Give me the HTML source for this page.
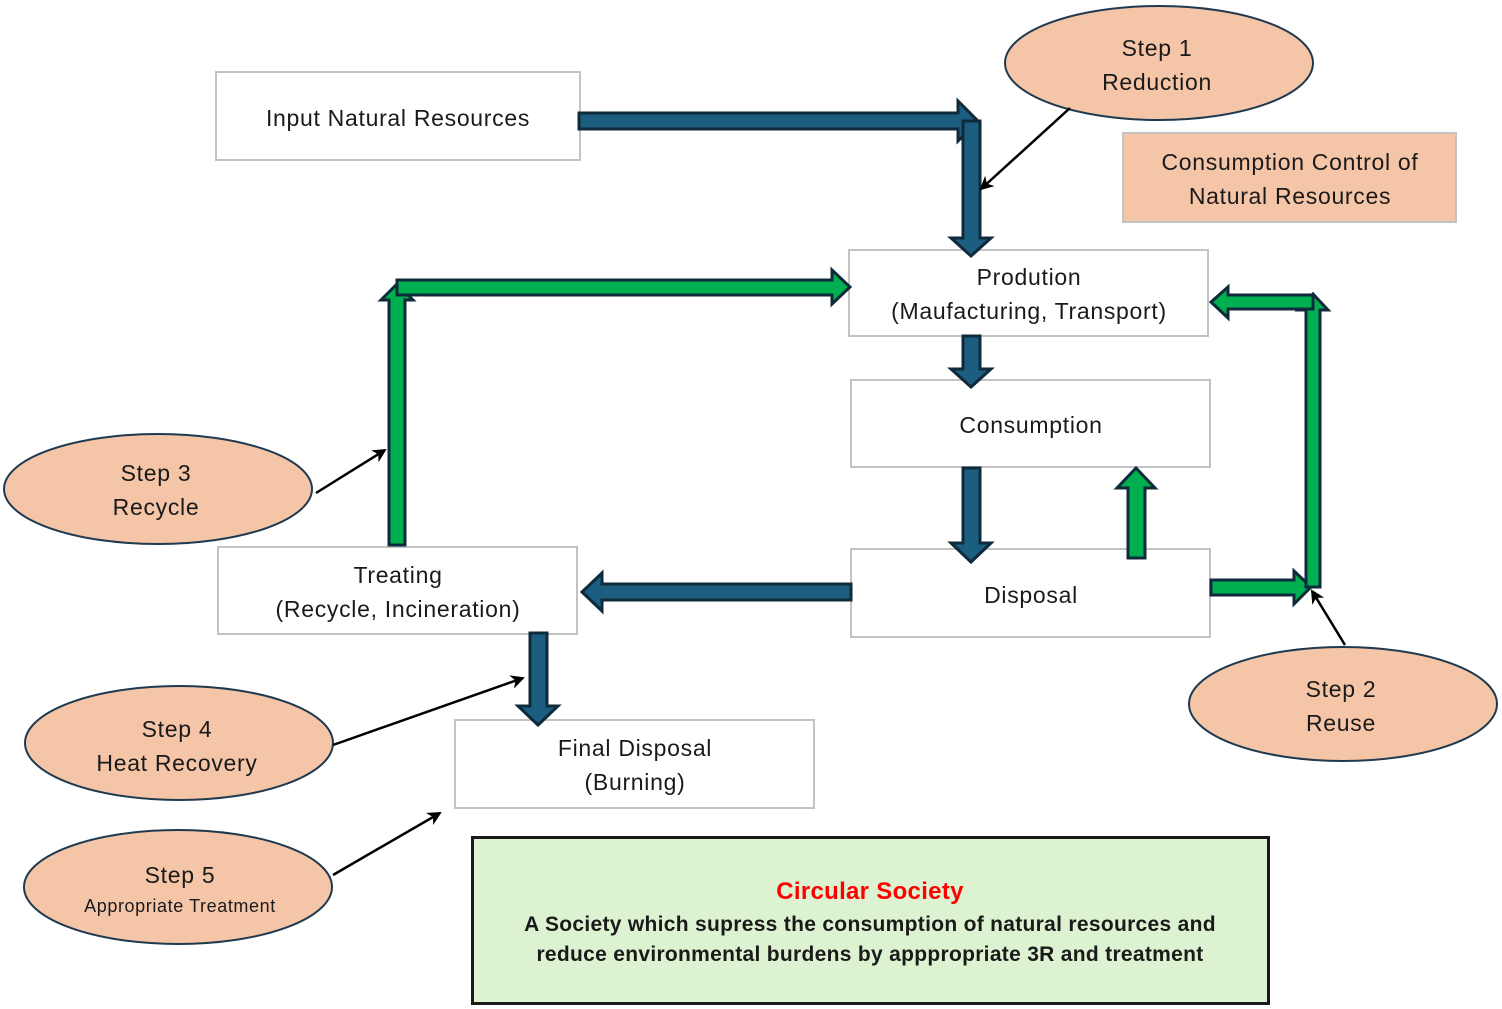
<!DOCTYPE html>
<html><head><meta charset="utf-8"><style>
html,body{margin:0;padding:0;background:#fff;}
svg{display:block;font-family:"Liberation Sans","DejaVu Sans",sans-serif;}
text{fill:#1a1a1a;font-size:23px;letter-spacing:0.7px;text-anchor:middle;}
</style></head><body>
<svg width="1502" height="1009" viewBox="0 0 1502 1009" xmlns="http://www.w3.org/2000/svg">
<defs>
<marker id="ah" markerWidth="14" markerHeight="14" refX="12" refY="7" orient="auto" markerUnits="userSpaceOnUse"><path d="M0,0 L14,7 L0,14 L4,7 z" fill="#000"/></marker>
</defs>
<g fill="#fff" stroke="#c3c3c3" stroke-width="2">
<rect x="216" y="72" width="364" height="88"/>
<rect x="849" y="250" width="359" height="86"/>
<rect x="851" y="380" width="359" height="87"/>
<rect x="851" y="549" width="359" height="88"/>
<rect x="218" y="547" width="359" height="87"/>
<rect x="455" y="720" width="359" height="88"/>
<rect x="1123" y="133" width="333" height="89" fill="#f5c5a8"/>
</g>
<rect x="472.5" y="837.5" width="796" height="166" fill="#dcf2d0" stroke="#1a1a1a" stroke-width="3"/>
<g stroke="#0f2a3a" stroke-width="3" stroke-linejoin="miter">
<polygon fill="#1b5e80" points="579,113 958,113 958,101 978,121 958,141 958,129 579,129"/>
<polygon fill="#1b5e80" points="963,121 980,121 980,238 991,238 971,256 951,238 963,238"/>
<polygon fill="#1b5e80" points="963,336 980,336 980,369 991,369 971,387 951,369 963,369"/>
<polygon fill="#1b5e80" points="963,468 980,468 980,543 991,543 971,562 951,543 963,543"/>
<polygon fill="#1b5e80" points="851,584 602,584 602,573 582,592 602,611 602,600 851,600"/>
<polygon fill="#1b5e80" points="530,633 547,633 547,706 558,706 538,725 518,706 530,706"/>
<polygon fill="#00b050" points="1128,558 1145,558 1145,488 1155,488 1136,468 1117,488 1128,488"/>
<polygon fill="#00b050" points="389,545 405,545 405,300 413,300 397,284 381,300 389,300"/>
<polygon fill="#00b050" points="397,280 832,280 832,270 850,287 832,304 832,295 397,295"/>
<polygon fill="#00b050" points="1211,580 1294,580 1294,571 1311,587 1294,604 1294,595 1211,595"/>
<polygon fill="#00b050" points="1306,587 1320,587 1320,310 1328,310 1313,294 1298,310 1306,310"/>
<polygon fill="#00b050" points="1313,295 1228,295 1228,287 1211,302 1228,318 1228,309 1313,309"/>
</g>
<g fill="#f5c5a8" stroke="#1f3a50" stroke-width="2">
<ellipse cx="1159" cy="63" rx="154" ry="57"/>
<ellipse cx="158" cy="489" rx="154" ry="55"/>
<ellipse cx="1343" cy="704" rx="154" ry="57"/>
<ellipse cx="179" cy="743" rx="154" ry="57"/>
<ellipse cx="178" cy="887" rx="154" ry="57"/>
</g>
<g stroke="#000" stroke-width="2.5" marker-end="url(#ah)">
<line x1="1070" y1="108" x2="981" y2="189"/>
<line x1="316" y1="493" x2="385" y2="450"/>
<line x1="1345" y1="645" x2="1312" y2="591"/>
<line x1="333" y1="745" x2="523" y2="678"/>
<line x1="333" y1="875" x2="440" y2="813"/>
</g>
<text x="398" y="126">Input Natural Resources</text>
<text x="1029" y="285">Prodution</text>
<text x="1029" y="319">(Maufacturing, Transport)</text>
<text x="1031" y="433">Consumption</text>
<text x="1031" y="603">Disposal</text>
<text x="398" y="583">Treating</text>
<text x="398" y="617">(Recycle, Incineration)</text>
<text x="635" y="756">Final Disposal</text>
<text x="635" y="790">(Burning)</text>
<text x="1290" y="170">Consumption Control of</text>
<text x="1290" y="204">Natural Resources</text>
<text x="1157" y="56">Step 1</text>
<text x="1157" y="90">Reduction</text>
<text x="156" y="481">Step 3</text>
<text x="156" y="515">Recycle</text>
<text x="1341" y="697">Step 2</text>
<text x="1341" y="731">Reuse</text>
<text x="177" y="737">Step 4</text>
<text x="177" y="771">Heat Recovery</text>
<text x="180" y="883">Step 5</text>
<text x="180" y="912" style="font-size:18px;letter-spacing:0.6px">Appropriate Treatment</text>
<text x="870" y="899" style="fill:#ff0000;font-weight:bold;font-size:24px;letter-spacing:0.3px">Circular Society</text>
<text x="870" y="931" style="font-weight:bold;font-size:21px;letter-spacing:0.3px">A Society which supress the consumption of natural resources and</text>
<text x="870" y="961" style="font-weight:bold;font-size:21px;letter-spacing:0.3px">reduce environmental burdens by apppropriate 3R and treatment</text>
</svg>
</body></html>
